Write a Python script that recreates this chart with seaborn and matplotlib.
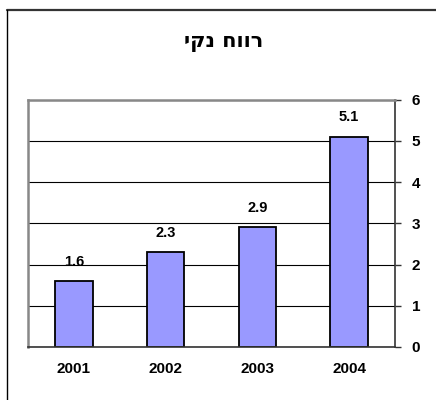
import matplotlib
matplotlib.use("Agg")
import matplotlib.pyplot as plt
import seaborn as sns
import pandas as pd
from matplotlib.lines import Line2D

years = ["2001", "2002", "2003", "2004"]
net_profit = [1.6, 2.3, 2.9, 5.1]
y_ticks = [0, 1, 2, 3, 4, 5, 6]
title = "רווח נקי"

df = pd.DataFrame({"year": years, "value": net_profit})

sns.set_style("white")
plt.rcParams['font.family'] = ['Liberation Sans', 'DejaVu Sans']
plt.rcParams['text.color'] = 'black'
plt.rcParams['xtick.color'] = 'black'
plt.rcParams['ytick.color'] = 'black'

fig = plt.figure(figsize=(4.36, 4.0), dpi=100)
ax = fig.add_axes([0.064, 0.1325, 0.842, 0.6185])

sns.barplot(
    data=df,
    x="year",
    y="value",
    color="#9999FF",
    edgecolor="black",
    linewidth=1.3,
    width=0.41,
    saturation=1,
    ax=ax
)

ax.set_xlim(-0.5, len(years) - 0.5)
ax.set_ylim(0, 6)
ax.set_yticks(y_ticks)
ax.yaxis.tick_right()
ax.yaxis.set_label_position("right")
ax.set_xlabel("")
ax.set_ylabel("")

# horizontal grid lines
ax.grid(axis="y", color="black", linewidth=0.8)
ax.set_axisbelow(True)

# ticks between categories on the x axis
ax.set_xticks([i - 0.5 for i in range(len(years) + 1)], minor=True)
ax.tick_params(axis="x", which="minor", length=4, width=1, color="#333333", direction="out")
ax.tick_params(axis="x", which="major", length=0, pad=11)
ax.tick_params(axis="y", which="major", length=4, width=1, color="#333333", direction="out", pad=8)
for lbl in ax.get_xticklabels() + ax.get_yticklabels():
    lbl.set_fontweight("bold")
    lbl.set_fontsize(11)
    lbl.set_color("black")

for side in ["top", "left"]:
    ax.spines[side].set_color("#888888")
    ax.spines[side].set_linewidth(1.8)
for side in ["bottom", "right"]:
    ax.spines[side].set_color("#333333")
    ax.spines[side].set_linewidth(1.2)
    ax.spines[side].set_visible(True)

for i, v in enumerate(net_profit):
    ax.annotate(
        str(v), (i, v), xytext=(0, 9), textcoords="offset points",
        ha="center", va="bottom", fontsize=10.5, fontweight="bold", color="black"
    )

# matplotlib has no bidi support, so flip the Hebrew for display
fig.text(0.513, 0.895, title[::-1], ha="center", va="center",
         fontsize=15, fontweight="bold", color="black",
         family=["DejaVu Sans"])

# outer chart frame (top and left edges)
fig.add_artist(Line2D([0.017, 1.0], [0.974, 0.974], color="#333333", linewidth=1.6))
fig.add_artist(Line2D([0.017, 0.017], [0.0, 0.974], color="black", linewidth=1.0))

fig.savefig("out.png", dpi=100)
